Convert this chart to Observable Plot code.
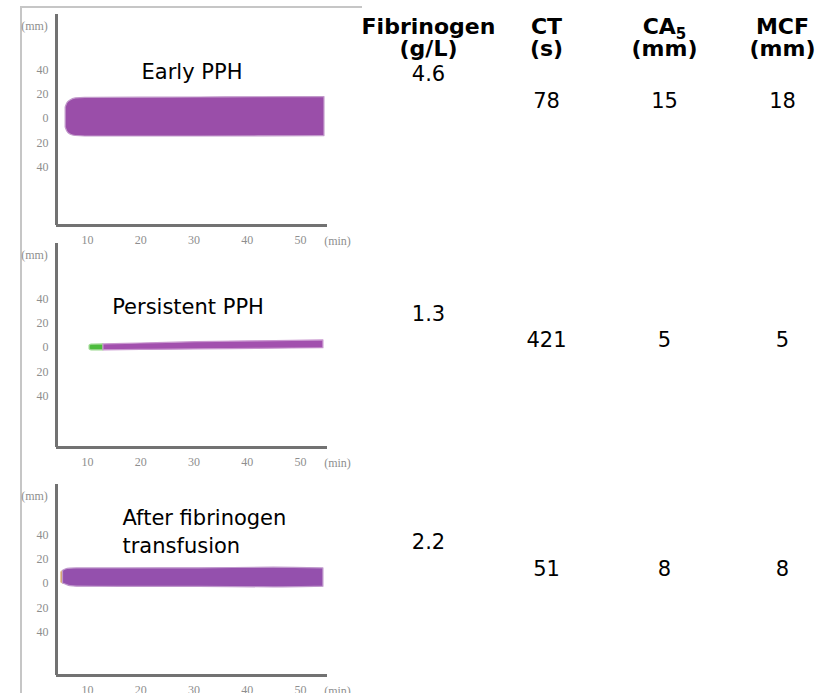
<!DOCTYPE html>
<html>
<head>
<meta charset="utf-8">
<script src="https://cdn.jsdelivr.net/npm/d3@7"></script>
<script src="https://cdn.jsdelivr.net/npm/@observablehq/plot@0.6"></script>
<style>
  html, body { margin: 0; padding: 0; background: #fff; }
  #root { position: relative; width: 828px; height: 693px; overflow: hidden; font-family: 'DejaVu Sans', Verdana, sans-serif; }
  #root svg { overflow: visible; background: transparent; }
  .abs { position: absolute; }
</style>
</head>
<body>
<div id="root"></div>
<script>
// ---------- data ----------
const panelTitles = ["Early PPH", "Persistent PPH", "After fibrinogen\ntransfusion"];
const headers = ["Fibrinogen\n(g/L)", "CT\n(s)", "CA\u2085\n(mm)", "MCF\n(mm)"];
const columns = ["fib", "ct", "ca5", "mcf"];
const fibrinogen = [4.6, 1.3, 2.2];
const ctSeconds = [78, 421, 51];
const ca5 = [15, 5, 8];
const mcf = [18, 5, 8];

const xTicks = [10, 20, 30, 40, 50];
const yTicks = [40, 20, 0, -20, -40];
const yTickLabels = ["40", "20", "0", "20", "40"];

// Early PPH trace (time in min, upper / lower amplitude in mm)
const earlyT  = [5.9, 6.2, 6.8, 7.8, 9.6, 20, 31, 43, 54.5];
const earlyHi = [9.1, 12.3, 14.8, 16.5, 16.9, 17.1, 17.3, 17.5, 17.7];
const earlyLo = [-7.4, -10.7, -13.2, -14.4, -14.8, -14.8, -14.8, -14.7, -14.5];

// Persistent PPH trace: clotting-time segment, then clot
const persistCtT  = [10.4, 10.8, 13.0];
const persistCtHi = [1.4, 2.3, 2.5];
const persistCtLo = [-1.4, -2.3, -2.3];
const persistT  = [13.0, 20, 30.3, 42, 54.3];
const persistHi = [2.5, 3.3, 4.4, 5.1, 5.8];
const persistLo = [-2.3, -2.0, -1.6, -1.1, -0.6];

// After fibrinogen transfusion trace
const afterTipT  = [5.1, 5.4];
const afterTipHi = [9.1, 10.3];
const afterTipLo = [0.8, 0.0];
const afterT  = [5.4, 5.9, 6.8, 8, 16, 31, 45, 54.3];
const afterHi = [10.3, 11.5, 12.2, 12.4, 12.4, 12.5, 13.0, 12.4];
const afterLo = [0.0, -0.8, -2.2, -2.6, -2.7, -2.8, -3.2, -2.6];

// ---------- helpers ----------
const rows = (T, H, L) => T.map((t, i) => ({t, hi: H[i], lo: L[i]}));
const traces = [
  [{data: rows(earlyT, earlyHi, earlyLo), fill: "#9a4ea9", edge: "#c29acb"}],
  [{data: rows(persistCtT, persistCtHi, persistCtLo), fill: "#4cbc3c", edge: "#9ad88e"},
   {data: rows(persistT, persistHi, persistLo), fill: "#a250ae", edge: "#c996cf"}],
  [{data: rows(afterTipT, afterTipHi, afterTipLo), fill: "#c98a45", edge: "#e0b98a"},
   {data: rows(afterT, afterHi, afterLo), fill: "#9450ad", edge: "#bf98cc"}]
];

// ---------- layout (pixels) ----------
const panelLayout = [
  {top: 0,   axisLen: 211, zeroFromTop: 104, title: {frameAnchor: "top", textAnchor: "middle", dx: 0, dy: 64}, fibY: 80, valY: 107},
  {top: 229, axisLen: 204, zeroFromTop: 104, title: {frameAnchor: "top", textAnchor: "middle", dx: -4, dy: 70}, fibY: 91, valY: 117},
  {top: 470, axisLen: 191, zeroFromTop: 99,  title: {frameAnchor: "top-left", textAnchor: "start", dx: 66, dy: 68}, fibY: 78, valY: 105}
];
const pxPerMm = 1.215;
const xDomain = [4.18, 55.07];
const mTop = 14, mBottom = 25, mLeft = 56, mRight = 33, panelW = 360;
const tableLeft = 360, tableW = 468;
const tableX = {type: "point", domain: columns, range: [68, 422], padding: 0, axis: null};

const root = document.getElementById("root");

// outer light frame
const frame = document.createElement("div");
frame.className = "abs";
Object.assign(frame.style, {left: "20px", top: "6px", width: "340px", height: "720px",
  borderLeft: "2px solid #c6c6c6", borderTop: "2px solid #c6c6c6"});
root.appendChild(frame);

const yLabelMap = new Map(yTicks.map((v, i) => [v, yTickLabels[i]]));
const axisStyle = {fontFamily: "'Liberation Serif', 'DejaVu Serif', serif", fontSize: "12px", color: "#8e8e8e", background: "transparent", overflow: "visible"};

panelLayout.forEach((L, i) => {
  const height = mTop + L.axisLen + mBottom;
  const yDomain = [-(L.axisLen - L.zeroFromTop) / pxPerMm, L.zeroFromTop / pxPerMm];
  const marks = [];
  traces[i].forEach(seg => {
    marks.push(Plot.areaY(seg.data, {x: "t", y1: "lo", y2: "hi", fill: seg.fill, stroke: seg.edge, strokeWidth: 1.2, curve: "monotone-x"}));
  });
  marks.push(
    Plot.ruleX([xDomain[0]], {stroke: "#727272", strokeWidth: 3}),
    Plot.ruleY([yDomain[0]], {stroke: "#727272", strokeWidth: 3}),
    Plot.axisX(xTicks, {tickSize: 0, tickPadding: 10, label: null, tickFormat: d => String(d)}),
    Plot.axisY(yTicks, {tickSize: 0, tickPadding: 8, label: null, tickFormat: d => yLabelMap.get(d)}),
    Plot.text(["(mm)"], {text: d => d, frameAnchor: "top-left", dx: -22, dy: 12, textAnchor: "middle", lineAnchor: "middle", fill: "#8e8e8e"}),
    Plot.text(["(min)"], {text: d => d, frameAnchor: "bottom-right", dx: 10, dy: 16, textAnchor: "middle", lineAnchor: "middle", fill: "#8e8e8e"}),
    Plot.text([panelTitles[i]], {text: d => d, frameAnchor: L.title.frameAnchor, textAnchor: L.title.textAnchor,
      dx: L.title.dx, dy: L.title.dy, lineAnchor: "bottom", lineHeight: 1.33, fill: "#000",
      fontFamily: "'DejaVu Sans', sans-serif", fontSize: 21})
  );
  const chart = Plot.plot({
    width: panelW, height,
    marginTop: mTop, marginBottom: mBottom, marginLeft: mLeft, marginRight: mRight,
    x: {domain: xDomain},
    y: {domain: yDomain},
    style: axisStyle,
    marks
  });
  chart.classList.add("abs");
  chart.style.left = "0px";
  chart.style.top = L.top + "px";
  root.appendChild(chart);

  // table values for this row
  const fibRow = [{col: "fib", text: fibrinogen[i].toFixed(1)}];
  const valRows = [
    {col: "ct", text: String(ctSeconds[i])},
    {col: "ca5", text: String(ca5[i])},
    {col: "mcf", text: String(mcf[i])}
  ];
  const vals = Plot.plot({
    width: tableW, height, margin: 0,
    x: tableX,
    style: {fontFamily: "'DejaVu Sans', sans-serif", background: "transparent", overflow: "visible", color: "#000"},
    marks: [
      Plot.text(fibRow, {x: "col", text: "text", frameAnchor: "top", dy: L.fibY, lineAnchor: "bottom", fontSize: 21, fill: "#000"}),
      Plot.text(valRows, {x: "col", text: "text", frameAnchor: "top", dy: L.valY, lineAnchor: "bottom", fontSize: 21, fill: "#000"})
    ]
  });
  vals.classList.add("abs");
  vals.style.left = tableLeft + "px";
  vals.style.top = L.top + "px";
  root.appendChild(vals);
});

// table header
const head = Plot.plot({
  width: tableW, height: 65, margin: 0,
  x: tableX,
  style: {fontFamily: "'DejaVu Sans', sans-serif", background: "transparent", overflow: "visible", color: "#000"},
  marks: [
    Plot.text(columns.map((c, i) => ({col: c, text: headers[i]})), {x: "col", text: "text", frameAnchor: "top", dy: 55,
      lineAnchor: "bottom", lineHeight: 0.97, fontSize: 22, fontWeight: "bold", fill: "#000"})
  ]
});
// render the subscript of CA5 as a real lowered, smaller digit
d3.select(head).selectAll("tspan").each(function () {
  const s = this.textContent;
  if (s.includes("\u2085")) {
    const t = d3.select(this);
    t.text(s.replace("\u2085", ""));
    t.append("tspan").attr("font-size", 15).attr("baseline-shift", -5).text("5");
  }
});
head.classList.add("abs");
head.style.left = tableLeft + "px";
head.style.top = "0px";
root.appendChild(head);
</script>
</body>
</html>
